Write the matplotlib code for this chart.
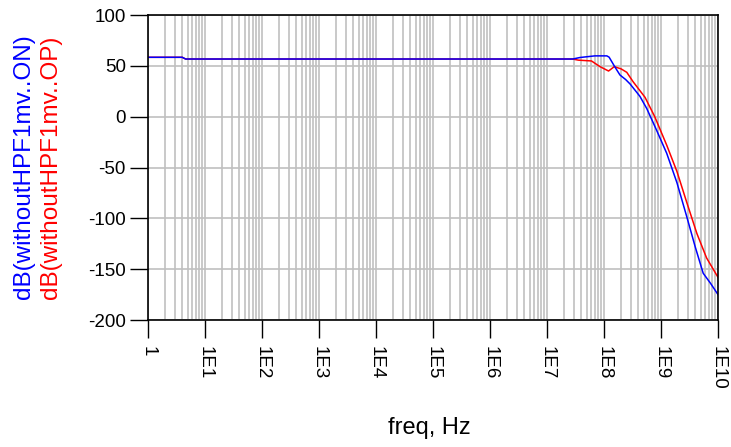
import matplotlib.pyplot as plt
import numpy as np
from matplotlib.ticker import FixedLocator, LogLocator, NullFormatter

plt.rcParams['font.family'] = ['Liberation Sans', 'DejaVu Sans']

# frequencies as log10(Hz)
on_exp = [0, 0.6, 0.66, 7.45, 7.58, 7.84, 8.05, 8.09, 8.19, 8.28, 8.38, 8.46,
          8.63, 8.75, 8.92, 9.10, 9.28, 9.45, 9.60, 9.74, 9.87, 10.0]
on_db = [58.4, 58.4, 56.7, 56.7, 58.2, 59.8, 59.8, 58.5, 49.0, 41.0, 36.5, 32.0,
         20.0, 8.0, -13.0, -36.0, -65.0, -98.0, -128.0, -154.0, -164.0, -175.0]

op_exp = [0, 0.6, 0.66, 7.45, 7.55, 7.78, 7.93, 8.08, 8.18, 8.30, 8.40, 8.51,
          8.72, 8.89, 9.10, 9.28, 9.45, 9.63, 9.80, 10.0]
op_db = [58.4, 58.4, 56.7, 56.7, 55.6, 54.8, 49.2, 44.9, 49.2, 47.0, 43.6, 34.4,
         19.0, 0.0, -28.0, -54.0, -84.0, -115.0, -139.0, -158.0]

xtick_labels = ['1', '1E1', '1E2', '1E3', '1E4', '1E5', '1E6', '1E7', '1E8', '1E9', '1E10']
yticks = [-200, -150, -100, -50, 0, 50, 100]

fig = plt.figure(figsize=(7.31, 4.47), dpi=100)
ax = fig.add_axes([148/731, 1-320/447, 570/731, 305/447])

ax.plot(10**np.array(op_exp), op_db, color='red', lw=1.1)
ax.plot(10**np.array(on_exp), on_db, color='blue', lw=1.1)

ax.set_xscale('log')
ax.set_xlim(1, 1e10)
ax.set_ylim(-200, 100)

ax.xaxis.set_major_locator(FixedLocator([10.0**i for i in range(11)]))
ax.xaxis.set_minor_locator(LogLocator(base=10, subs=np.arange(2, 10), numticks=100))
ax.xaxis.set_minor_formatter(NullFormatter())
ax.set_xticklabels(xtick_labels, rotation=-90, va='top', ha='center')
ax.set_yticks(yticks)
ax.set_yticklabels([str(v) for v in yticks])

ax.tick_params(axis='both', which='major', length=13, width=1, labelsize=13.5, direction='out')
ax.tick_params(axis='x', which='major', pad=6)
ax.tick_params(axis='y', which='major', pad=3)
ax.tick_params(axis='x', which='minor', length=0)

ax.grid(True, which='major', color='#c0c0c0', lw=1.2)
ax.grid(True, which='minor', axis='x', color='#c0c0c0', lw=1.2)
ax.set_axisbelow(True)
for s in ax.spines.values():
    s.set_color('black')
    s.set_linewidth(1.2)

fig.text(429/731, 1-428/447, 'freq, Hz', ha='center', va='center', fontsize=17)
fig.text(24/731, 1-167/447, 'dB(withoutHPF1mv..ON)', color='blue', rotation=90,
         ha='center', va='center', fontsize=17.5)
fig.text(51/731, 1-167/447, 'dB(withoutHPF1mv..OP)', color='red', rotation=90,
         ha='center', va='center', fontsize=17.5)

fig.savefig('out.png', dpi=100)
